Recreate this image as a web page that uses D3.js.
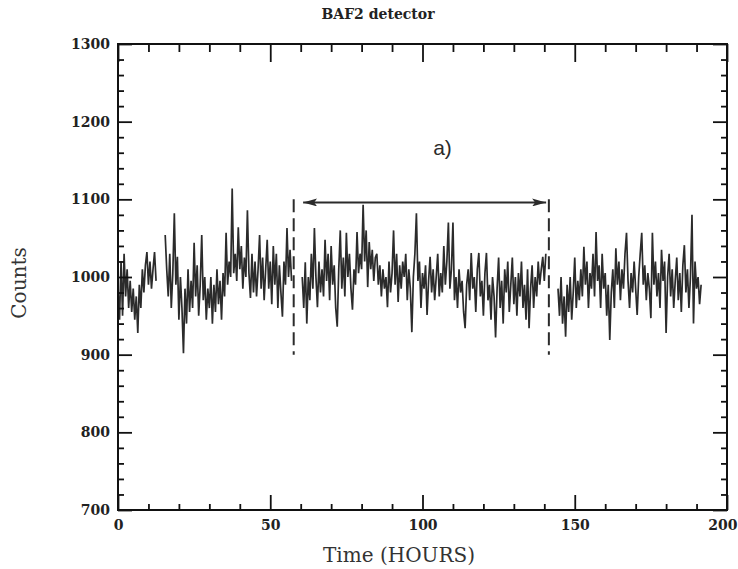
<!DOCTYPE html>
<html>
<head>
<meta charset="utf-8">
<script src="https://cdn.jsdelivr.net/npm/d3@7"></script>
<style>
  html, body { margin: 0; padding: 0; background: #fff; }
  svg { display: block; }
</style>
</head>
<body>
<svg id="chart" width="738" height="569"></svg>
<script>
// ---------------- DATA ----------------
const title = "BAF2 detector";
const xLabel = "Time (HOURS)";
const yLabel = "Counts";
const panelLabel = "a)";
const xTicks = [0, 50, 100, 150, 200];
const yTicks = [700, 800, 900, 1000, 1100, 1200, 1300];
const step = 0.5; // hours between samples

const seg1Start = 0;
const seg1 = [985,945,1020,950,1030,975,1010,960,995,955,985,945,975,928,990,960,1010,980,1015,1032,990,1020,985,1010,1032,995];

const seg2Start = 15.5;
const seg2 = [1054,1010,975,1030,960,1005,1082,990,1026,945,1000,960,902,985,940,1010,955,995,960,1044,975,1015,950,990,1054,970,1000,945,985,960,1000,940,990,955,1010,965,995,945,1005,975,1057,990,1020,1000,1114,1005,1030,995,1064,1010,1040,985,1025,1000,1086,1005,973,1030,980,1020,975,1010,1054,985,1025,970,1010,1048,985,1020,965,1040,990,1030,960,1015,980,949,1020,990,1063,1000,1035,995];

const seg3Start = 60.5;
const seg3 = [1000,960,1019,940,1000,970,1030,985,1063,1000,961,1020,980,1010,975,1048,995,1030,970,1040,990,1015,960,936,1010,1060,985,1025,975,1057,1000,1030,985,958,1010,990,1058,1005,1030,1010,1093,1020,1060,987,1045,1010,1035,995,1025,1030,990,1015,975,1010,985,1000,961,1020,980,1005,1060,990,1030,968,1015,985,1020,1000,1030,970,1010,985,929,1000,1030,1082,995,1020,960,1005,985,1015,951,995,1026,980,1010,970,1000,1030,975,1005,980,1040,990,1020,1070,985,1010,1070,970,1000,960,1010,980,995,955,934,990,1010,970,1031,985,1000,955,1010,1031,975,995,950,1005,1031,970,990,945,1000,975,922,985,1025,960,995,940,1010,980,1020,955,990,1025,965,1000,950,1005,975,1020,960,990,945,1010,934,985,1015,960,1000,975,1020,990,1010,1026,995,1030];

const seg4Start = 144.5;
const seg4 = [985,950,1000,940,975,923,990,955,1000,945,980,1025,960,995,970,1010,975,1039,990,1020,960,1005,985,1030,975,1058,995,1015,960,1030,985,1005,950,990,919,980,1010,960,1037,990,1020,970,1010,985,1030,1057,995,960,1005,980,1020,985,951,1000,1030,1057,990,1015,970,1005,985,947,1057,990,1020,975,1005,960,1035,995,1020,928,1000,1030,975,1010,960,995,1025,970,1005,955,1015,1041,980,1010,960,1000,1080,940,1020,985,1000,965,990];

const segments = [
  { start: seg1Start, values: seg1 },
  { start: seg2Start, values: seg2 },
  { start: seg3Start, values: seg3 },
  { start: seg4Start, values: seg4 }
];

// dashed markers and arrow (in data units)
const markerTimes = [57.7, 141.5];
const markerRange = [900, 1100];
const arrowSpan = [60.8, 140.6];
const arrowLevel = 1096;
const labelPos = [103.5, 1157];

// ---------------- CHART ----------------
const svg = d3.select("#chart");
const L = 118, R = 727, T = 44, B = 510;

const x = d3.scaleLinear().domain([0, 200]).range([L, R]);
const y = d3.scaleLinear().domain([700, 1300]).range([B, T]);

const ink = "#2b2b2b";
const tickFont = "'DejaVu Serif', serif";

const defs = svg.append("defs");
defs.append("marker")
  .attr("id", "ah")
  .attr("viewBox", "0 0 14 8")
  .attr("refX", 14).attr("refY", 4)
  .attr("markerWidth", 14).attr("markerHeight", 8)
  .attr("markerUnits", "userSpaceOnUse")
  .attr("orient", "auto-start-reverse")
  .append("path").attr("d", "M0,0 L14,4 L0,8 L3,4 Z").attr("fill", ink);

// data line
const line = d3.line()
  .x(d => x(d[0]))
  .y(d => y(d[1]));

segments.forEach(s => {
  const pts = s.values.map((v, i) => [s.start + i * step, v]);
  svg.append("path")
    .attr("d", line(pts))
    .attr("fill", "none")
    .attr("stroke", ink)
    .attr("stroke-width", 1.7)
    .attr("stroke-linejoin", "miter");
});

// dashed markers
markerTimes.forEach(t => {
  svg.append("line")
    .attr("x1", x(t)).attr("x2", x(t))
    .attr("y1", y(markerRange[1])).attr("y2", y(markerRange[0]))
    .attr("stroke", ink).attr("stroke-width", 2)
    .attr("stroke-dasharray", "13,6");
});

// arrow
svg.append("line")
  .attr("x1", x(arrowSpan[0])).attr("x2", x(arrowSpan[1]))
  .attr("y1", y(arrowLevel)).attr("y2", y(arrowLevel))
  .attr("stroke", ink).attr("stroke-width", 2)
  .attr("marker-start", "url(#ah)")
  .attr("marker-end", "url(#ah)");

svg.append("text")
  .attr("x", x(labelPos[0])).attr("y", y(labelPos[1]))
  .attr("font-family", "'Liberation Sans', Arial, sans-serif")
  .attr("font-size", 21)
  .attr("fill", ink)
  .text(panelLabel);

// axes helper
function styleAxis(g) {
  g.select(".domain").remove();
  g.selectAll(".tick line").attr("stroke", "#111").attr("stroke-width", 1.8);
  g.selectAll(".tick text")
    .attr("font-family", tickFont)
    .attr("font-weight", "bold")
    .attr("font-size", 14)
    .attr("fill", "#222");
}

const yMinor = d3.range(700, 1301, 20).filter(v => v % 100 !== 0);
const xMinor = d3.range(0, 201, 10).filter(v => v % 50 !== 0);

// left
svg.append("g").attr("transform", `translate(${L},0)`)
  .call(d3.axisLeft(y).tickValues(yTicks).tickSize(-14).tickPadding(8).tickFormat(d3.format("d")))
  .call(styleAxis);
svg.append("g").attr("transform", `translate(${L},0)`)
  .call(d3.axisLeft(y).tickValues(yMinor).tickSize(-6).tickFormat(""))
  .call(styleAxis);
// right
svg.append("g").attr("transform", `translate(${R},0)`)
  .call(d3.axisRight(y).tickValues(yTicks).tickSize(-14).tickFormat(""))
  .call(styleAxis);
svg.append("g").attr("transform", `translate(${R},0)`)
  .call(d3.axisRight(y).tickValues(yMinor).tickSize(-6).tickFormat(""))
  .call(styleAxis);
// bottom
const gx = svg.append("g").attr("transform", `translate(0,${B})`)
  .call(d3.axisBottom(x).tickValues(xTicks).tickSize(-15).tickPadding(10).tickFormat(d3.format("d")))
  .call(styleAxis);
// keep the last label inside the picture
gx.selectAll(".tick text").filter(d => d === 200)
  .attr("text-anchor", "end").attr("dx", 10);
svg.append("g").attr("transform", `translate(0,${B})`)
  .call(d3.axisBottom(x).tickValues(xMinor).tickSize(-6).tickFormat(""))
  .call(styleAxis);
// top
svg.append("g").attr("transform", `translate(0,${T})`)
  .call(d3.axisTop(x).tickValues(xTicks).tickSize(-18).tickFormat(""))
  .call(styleAxis);
svg.append("g").attr("transform", `translate(0,${T})`)
  .call(d3.axisTop(x).tickValues(xMinor).tickSize(-8).tickFormat(""))
  .call(styleAxis);

// frame
svg.append("rect")
  .attr("x", L).attr("y", T)
  .attr("width", R - L).attr("height", B - T)
  .attr("fill", "none").attr("stroke", "#111").attr("stroke-width", 2);

// titles
svg.append("text")
  .attr("x", 378).attr("y", 19)
  .attr("text-anchor", "middle")
  .attr("font-family", tickFont)
  .attr("font-weight", "bold")
  .attr("font-size", 14)
  .attr("fill", "#222")
  .text(title);

svg.append("text")
  .attr("x", 399).attr("y", 562)
  .attr("text-anchor", "middle")
  .attr("font-family", tickFont)
  .attr("font-size", 20)
  .attr("fill", "#333")
  .text(xLabel);

svg.append("text")
  .attr("transform", "translate(26,283) rotate(-90)")
  .attr("text-anchor", "middle")
  .attr("font-family", tickFont)
  .attr("font-size", 20)
  .attr("fill", "#333")
  .text(yLabel);
</script>
</body>
</html>
